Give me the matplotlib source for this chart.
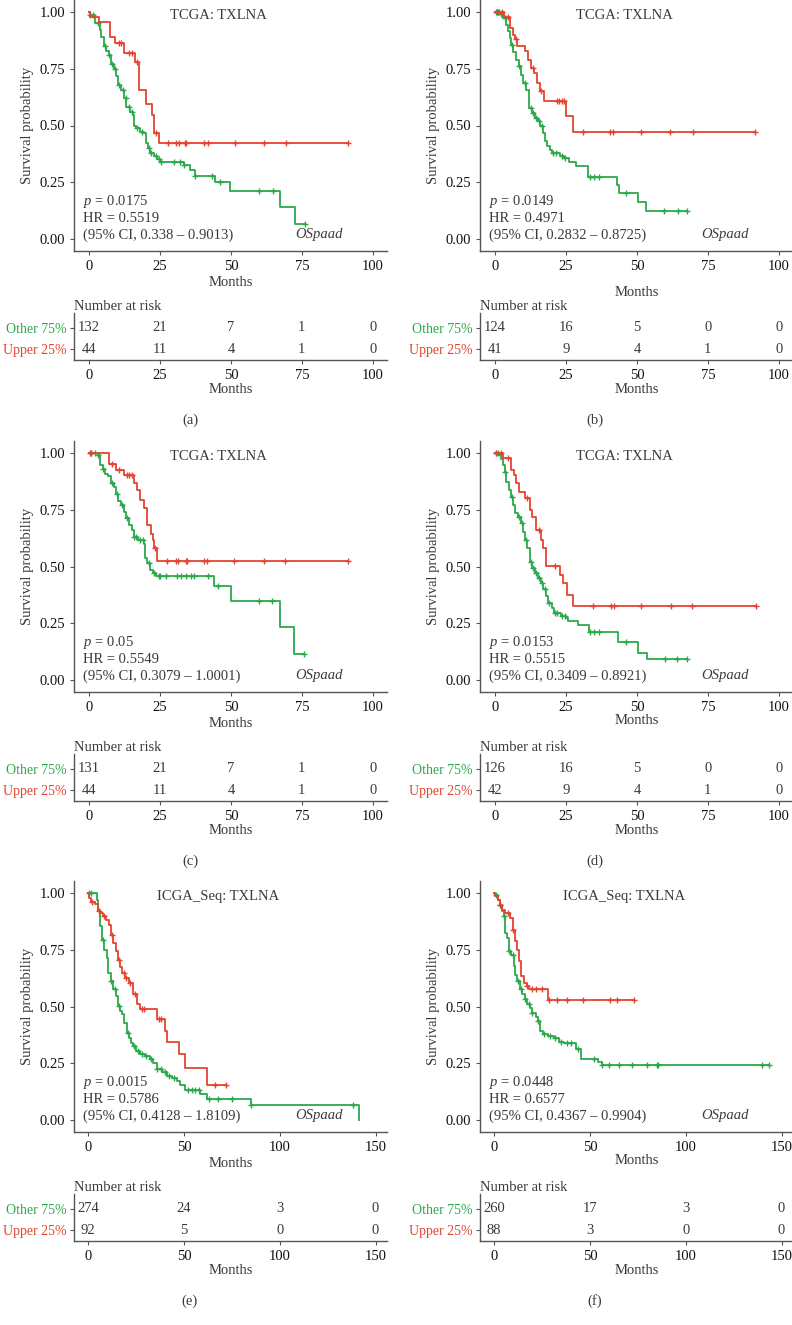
import numpy as np
import matplotlib
matplotlib.use("Agg")
import matplotlib.pyplot as plt

plt.rcParams['font.family'] = ['Liberation Serif', 'DejaVu Serif']
plt.rcParams['mathtext.fontset'] = 'custom'
plt.rcParams['mathtext.rm'] = 'Liberation Serif'
plt.rcParams['mathtext.it'] = 'Liberation Serif:italic'

RED = '#E5432F'
GREEN = '#2BA84A'
TXT = '#3a3a3a'

# ---- data ----
a_red_t = [0.5, 3.6, 7.5, 9.3, 12.4, 16.3, 17.5, 20.2, 22.2, 23.0, 24.5]
a_red_s = [0.98, 0.956, 0.89, 0.864, 0.82, 0.78, 0.656, 0.594, 0.546, 0.466, 0.422]
a_red_c = [10.7, 11.3, 14.0, 15.0, 16.8, 23.7, 28.0, 30.6, 31.6, 33.9, 34.3, 40.6, 41.8, 51.5, 61.7, 69.5, 91.2]
a_grn_t = [0.2, 2.2, 3.8, 4.3, 5.2, 6.1, 6.9, 7.7, 8.7, 9.6, 10.1, 11.3, 12.2, 13.1, 14.3, 15.5, 15.7, 16.7, 17.8,
           19.2, 20.1, 20.8, 21.6, 22.8, 23.9, 25.1, 33.3, 35.7, 37.4, 44.5, 49.8, 67.4, 72.7]
a_grn_s = [0.985, 0.95, 0.92, 0.89, 0.85, 0.83, 0.81, 0.77, 0.75, 0.72, 0.68, 0.656, 0.62, 0.583, 0.56, 0.546, 0.50,
           0.488, 0.473, 0.466, 0.422, 0.40, 0.378, 0.366, 0.351, 0.341, 0.326, 0.305, 0.278, 0.249, 0.21, 0.14, 0.067]
a_grn_c = [0.5, 1.5, 3.0, 5.5, 7.0, 8.2, 9.0, 10.5, 12.0, 13.0, 14.0, 15.0, 17.0, 18.5, 21.0, 22.0, 23.5, 24.5, 25.5,
           30.0, 32.0, 33.5, 37.5, 43.5, 46.0, 60.0, 65.0, 76.2]

b_red_t = [3.0, 5.3, 6.2, 7.1, 7.9, 10.5, 11.7, 12.7, 13.8, 14.8, 15.8, 17.4, 25.1, 27.5]
b_red_s = [0.98, 0.93, 0.90, 0.88, 0.85, 0.827, 0.79, 0.753, 0.73, 0.687, 0.65, 0.606, 0.54, 0.47]
b_red_c = [0.6, 1.5, 2.4, 4.7, 7.3, 13.3, 16.2, 21.8, 22.6, 23.5, 24.2, 31.0, 40.4, 41.6, 51.3, 61.7, 69.6, 91.7]
b_grn_t = [1.8, 2.9, 3.9, 4.4, 5.1, 5.7, 6.5, 7.4, 8.3, 9.1, 10.0, 11.0, 11.8, 12.1, 13.0, 14.2, 15.0, 15.9, 16.9,
           17.7, 18.3, 19.2, 20.0, 22.8, 24.2, 26.0, 28.7, 32.7, 43.0, 43.6, 50.4, 53.3]
b_grn_s = [0.99, 0.974, 0.944, 0.915, 0.885, 0.856, 0.822, 0.79, 0.76, 0.724, 0.687, 0.658, 0.614, 0.577, 0.555,
           0.533, 0.518, 0.496, 0.467, 0.43, 0.408, 0.39, 0.379, 0.364, 0.357, 0.338, 0.32, 0.272, 0.239, 0.203,
           0.162, 0.122]
b_grn_c = [0.4, 0.8, 1.2, 2.0, 3.5, 6.0, 8.5, 10.5, 12.5, 13.5, 14.5, 15.5, 16.5, 20.5, 21.5, 23.5, 24.5, 33.5,
           35.0, 36.5, 46.0, 59.6, 64.6, 67.6]

c_red_t = [7.1, 9.5, 12.2, 15.9, 16.9, 18.0, 19.4, 20.6, 21.8, 22.5, 23.0, 24.1]
c_red_s = [0.953, 0.927, 0.905, 0.868, 0.836, 0.792, 0.756, 0.683, 0.642, 0.617, 0.58, 0.526]
c_red_c = [0.2, 0.7, 8.1, 10.7, 13.3, 14.2, 15.1, 23.4, 27.6, 30.6, 31.5, 34.1, 34.4, 40.5, 41.7, 51.1, 61.6, 68.9,
           91.2]
c_grn_t = [3.0, 4.0, 4.8, 5.6, 6.8, 7.7, 8.7, 9.5, 10.3, 11.2, 12.2, 13.0, 14.2, 15.1, 15.7, 17.1, 19.4, 19.8, 20.6,
           21.4, 22.4, 23.5, 44.0, 49.9, 67.4, 72.1]
c_grn_s = [0.99, 0.946, 0.93, 0.909, 0.898, 0.866, 0.85, 0.82, 0.788, 0.77, 0.74, 0.712, 0.683, 0.661, 0.632, 0.617,
           0.60, 0.537, 0.515, 0.485, 0.471, 0.459, 0.412, 0.346, 0.232, 0.115]
c_grn_c = [0.7, 2.0, 3.0, 5.0, 8.0, 10.0, 11.5, 13.5, 16.0, 16.5, 18.0, 19.0, 21.0, 23.0, 24.5, 25.0, 27.0, 31.0,
           32.5, 34.0, 36.0, 37.0, 42.0, 45.5, 60.0, 64.5, 75.9]

d_red_t = [2.8, 5.5, 6.7, 7.5, 8.4, 10.5, 12.2, 13.1, 14.6, 16.1, 17.0, 18.1, 22.9, 24.0, 25.2, 27.6]
d_red_s = [0.98, 0.927, 0.902, 0.866, 0.829, 0.80, 0.749, 0.719, 0.661, 0.617, 0.58, 0.503, 0.463, 0.427, 0.373,
           0.325]
d_red_c = [0.5, 2.2, 4.4, 11.1, 15.5, 21.0, 34.6, 40.8, 41.9, 51.5, 62.1, 69.4, 92.1]
d_grn_t = [1.1, 2.0, 2.8, 3.4, 4.0, 4.8, 5.5, 6.4, 7.2, 8.1, 9.0, 9.9, 10.7, 11.4, 12.2, 13.1, 14.0, 15.0, 16.1,
           17.0, 17.8, 18.7, 19.9, 20.8, 23.2, 24.9, 25.8, 29.1, 33.1, 43.2, 50.3, 53.5]
d_grn_s = [0.99, 0.975, 0.946, 0.917, 0.873, 0.836, 0.807, 0.77, 0.734, 0.719, 0.69, 0.653, 0.617, 0.58, 0.522,
           0.493, 0.471, 0.449, 0.427, 0.401, 0.368, 0.339, 0.317, 0.295, 0.284, 0.274, 0.259, 0.244, 0.21, 0.167,
           0.12, 0.091]
d_grn_c = [0.3, 1.0, 3.5, 6.0, 8.5, 9.5, 11.0, 12.5, 13.5, 14.5, 15.5, 16.5, 17.5, 19.0, 21.0, 22.0, 23.5, 24.5,
           33.5, 35.0, 36.5, 46.0, 60.0, 64.1, 67.6]

e_red_t = [0.5, 1.4, 3.5, 4.9, 6.1, 7.9, 9.1, 10.8, 11.9, 13.1, 14.3, 15.4, 16.6, 17.8, 19.2, 21.3, 23.6, 25.3,
           27.1, 35.8, 40.0, 41.1, 47.2, 50.7, 62.1]
e_red_s = [0.978, 0.959, 0.953, 0.919, 0.912, 0.897, 0.883, 0.861, 0.817, 0.78, 0.743, 0.707, 0.675, 0.648, 0.626,
           0.604, 0.553, 0.509, 0.487, 0.443, 0.39, 0.345, 0.289, 0.23, 0.154]
e_red_c = [2.0, 5.5, 8.5, 12.5, 16.0, 18.5, 20.0, 22.0, 24.5, 28.0, 29.0, 37.0, 37.8, 66.4, 72.2]
e_grn_t = [4.4, 5.2, 6.1, 7.3, 8.4, 9.6, 10.5, 11.7, 13.1, 14.3, 15.4, 16.6, 17.8, 18.9, 20.1, 21.3, 22.4, 23.6,
           24.8, 27.1, 29.7, 32.3, 34.1, 35.8, 38.5, 41.1, 43.7, 46.3, 48.1, 50.7, 58.6, 62.1, 84.8, 141.6]
e_grn_s = [0.97, 0.927, 0.853, 0.795, 0.751, 0.714, 0.648, 0.611, 0.575, 0.545, 0.501, 0.479, 0.465, 0.428, 0.384,
           0.362, 0.34, 0.326, 0.306, 0.289, 0.282, 0.267, 0.249, 0.223, 0.211, 0.194, 0.186, 0.172, 0.152, 0.132,
           0.113, 0.091, 0.065, 0.0]
e_grn_c = [0.5, 1.5, 8.0, 12.0, 14.0, 16.0, 21.0, 24.0, 26.0, 28.0, 30.0, 33.0, 36.0, 38.0, 40.0, 42.0, 45.0, 52.0,
           54.0, 56.0, 58.0, 63.0, 68.0, 75.0, 85.0, 138.0]

f_red_t = [0.5, 1.8, 2.8, 4.1, 5.8, 8.1, 9.9, 11.1, 12.0, 12.9, 14.1, 15.5, 16.9, 18.2, 27.9]
f_red_s = [0.985, 0.97, 0.949, 0.927, 0.912, 0.89, 0.839, 0.787, 0.751, 0.699, 0.633, 0.604, 0.589, 0.578, 0.528]
f_red_c = [3.0, 7.0, 10.0, 17.0, 20.0, 22.0, 25.0, 28.5, 33.0, 38.0, 46.5, 60.5, 64.0, 73.2]
f_grn_t = [0.5, 1.8, 2.8, 4.1, 4.9, 5.8, 6.7, 7.6, 9.0, 10.2, 11.1, 12.0, 13.4, 14.6, 15.9, 17.3, 18.7, 19.9, 21.7,
           22.9, 24.0, 25.7, 27.9, 31.0, 34.0, 36.3, 42.9, 45.5, 54.0, 56.1]
f_grn_s = [0.993, 0.97, 0.949, 0.919, 0.897, 0.824, 0.802, 0.743, 0.729, 0.677, 0.641, 0.611, 0.575, 0.553, 0.531,
           0.509, 0.494, 0.472, 0.455, 0.435, 0.391, 0.381, 0.37, 0.362, 0.343, 0.34, 0.314, 0.267, 0.255, 0.242]
f_grn_c = [1.0, 3.0, 5.0, 8.0, 10.0, 12.5, 14.0, 16.0, 18.0, 20.0, 23.0, 26.0, 29.0, 32.0, 35.0, 38.0, 40.0, 44.0,
           52.0, 56.5, 60.0, 65.0, 72.0, 80.0, 85.0, 85.5, 140.0, 143.4]

risk_t100 = [0, 25, 50, 75, 100]
risk_t150 = [0, 50, 100, 150]
a_risk_other = [132, 21, 7, 1, 0]
a_risk_upper = [44, 11, 4, 1, 0]
b_risk_other = [124, 16, 5, 0, 0]
b_risk_upper = [41, 9, 4, 1, 0]
c_risk_other = [131, 21, 7, 1, 0]
c_risk_upper = [44, 11, 4, 1, 0]
d_risk_other = [126, 16, 5, 0, 0]
d_risk_upper = [42, 9, 4, 1, 0]
e_risk_other = [274, 24, 3, 0]
e_risk_upper = [92, 5, 0, 0]
f_risk_other = [260, 17, 3, 0]
f_risk_upper = [88, 3, 0, 0]

titles = ['TCGA: TXLNA'] * 4 + ['ICGA_Seq: TXLNA'] * 2
pvals = ['0.0175', '0.0149', '0.05', '0.0153', '0.0015', '0.0448']
hrs = ['0.5519', '0.4971', '0.5549', '0.5515', '0.5786', '0.6577']
cis = ['0.338 – 0.9013', '0.2832 – 0.8725', '0.3079 – 1.0001', '0.3409 – 0.8921', '0.4128 – 1.8109',
       '0.4367 – 0.9904']
letters = ['(a)', '(b)', '(c)', '(d)', '(e)', '(f)']

W, H = 792, 1325
fig = plt.figure(figsize=(W / 100, H / 100), dpi=100)


def px_axes(x0, y0, x1, y1):
    return fig.add_axes([x0 / W, 1 - y1 / H, (x1 - x0) / W, (y1 - y0) / H])


def style(ax):
    for s in ['top', 'right']:
        ax.spines[s].set_visible(False)
    for s in ['left', 'bottom']:
        ax.spines[s].set_color('#555555')
        ax.spines[s].set_linewidth(1.0)
    ax.tick_params(colors='#555555', labelcolor='#111111', labelsize=10.5, length=3, width=0.8)


def km(ax, t, s, c, col):
    tt = np.r_[0.0, t]
    ss = np.r_[1.0, s]
    end = max(tt[-1], max(c))
    ax.step(np.r_[tt, end], np.r_[ss, ss[-1]], where='post', color=col, lw=1.3)
    idx = np.searchsorted(tt, c, side='right') - 1
    ax.plot(c, ss[idx], ls='none', marker='+', ms=5, mew=1.0, color=col)


panels = [
    (a_red_t, a_red_s, a_red_c, a_grn_t, a_grn_s, a_grn_c, a_risk_other, a_risk_upper),
    (b_red_t, b_red_s, b_red_c, b_grn_t, b_grn_s, b_grn_c, b_risk_other, b_risk_upper),
    (c_red_t, c_red_s, c_red_c, c_grn_t, c_grn_s, c_grn_c, c_risk_other, c_risk_upper),
    (d_red_t, d_red_s, d_red_c, d_grn_t, d_grn_s, d_grn_c, d_risk_other, d_risk_upper),
    (e_red_t, e_red_s, e_red_c, e_grn_t, e_grn_s, e_grn_c, e_risk_other, e_risk_upper),
    (f_red_t, f_red_s, f_red_c, f_grn_t, f_grn_s, f_grn_c, f_risk_other, f_risk_upper),
]

col_x = [(74, 387), (480, 793)]
row_off = [0, 441, 881]
months_pad = [2, 9, 2, 0, 2, 0]

for i, (rt, rs, rc, gt, gs, gc, r_other, r_upper) in enumerate(panels):
    x0, x1 = col_x[i % 2]
    oy = row_off[i // 2]
    big = i >= 4
    ticks = risk_t150 if big else risk_t100
    xlim = (-7.4, 156) if big else (-5.3, 105)

    ax = px_axes(x0, oy, x1, oy + 251)
    style(ax)
    km(ax, gt, gs, gc, GREEN)
    km(ax, rt, rs, rc, RED)
    ax.set_xlim(*xlim)
    ax.set_ylim(-0.053, 1.053)
    ax.set_xticks(ticks)
    ax.set_yticks([0, 0.25, 0.5, 0.75, 1.0])
    ax.set_yticklabels(['0.00', '0.25', '0.50', '0.75', '1.00'])
    ax.set_xlabel('Months', fontsize=10.5, color=TXT, labelpad=months_pad[i])
    ax.set_ylabel('Survival probability', fontsize=10.5, color=TXT, labelpad=4)
    tr = ax.get_yaxis_transform()  # x in axes fraction, y in data
    ax.text(0.46, 0.985, titles[i], transform=tr, ha='center', va='center', fontsize=10.5, color=TXT)
    ax.text(0.03, 0.163, '$p$ = ' + pvals[i], transform=tr, va='center', fontsize=10.5, color=TXT)
    ax.text(0.03, 0.09, 'HR = ' + hrs[i], transform=tr, va='center', fontsize=10.5, color=TXT)
    ax.text(0.03, 0.018, '(95% CI, ' + cis[i] + ')', transform=tr, va='center', fontsize=10.5, color=TXT)
    ax.text(0.86, 0.018, 'OSpaad', transform=tr, ha='right', va='center', fontsize=10.5, color=TXT,
            style='italic')

    # number at risk table
    tb = px_axes(x0, oy + 313, x1, oy + 360)
    style(tb)
    tb.set_xlim(*xlim)
    tb.set_ylim(-0.52, 1.71)
    tb.set_xticks(ticks)
    tb.set_yticks([0, 1])
    tb.set_yticklabels(['Upper 25%', 'Other 75%'], fontsize=10)
    tb.tick_params(axis='y', pad=2)
    tb.get_yticklabels()[0].set_color(RED)
    tb.get_yticklabels()[1].set_color(GREEN)
    for tk, n1, n2 in zip(ticks, r_other, r_upper):
        tb.text(tk, 1, str(n1), ha='center', va='center', fontsize=10.5, color=TXT)
        tb.text(tk, 0, str(n2), ha='center', va='center', fontsize=10.5, color=TXT)
    tb.set_xlabel('Months', fontsize=10.5, color=TXT, labelpad=1)
    tb.text(0.0, 1.0, 'Number at risk', transform=tb.transAxes, ha='left', va='bottom',
            fontsize=10.5, color=TXT)

    cx = 190 if i % 2 == 0 else 595
    fig.text(cx / W, 1 - (oy + 420) / H, letters[i], ha='center', va='center', fontsize=10.5, color=TXT)

fig.savefig('out.png', dpi=100)
